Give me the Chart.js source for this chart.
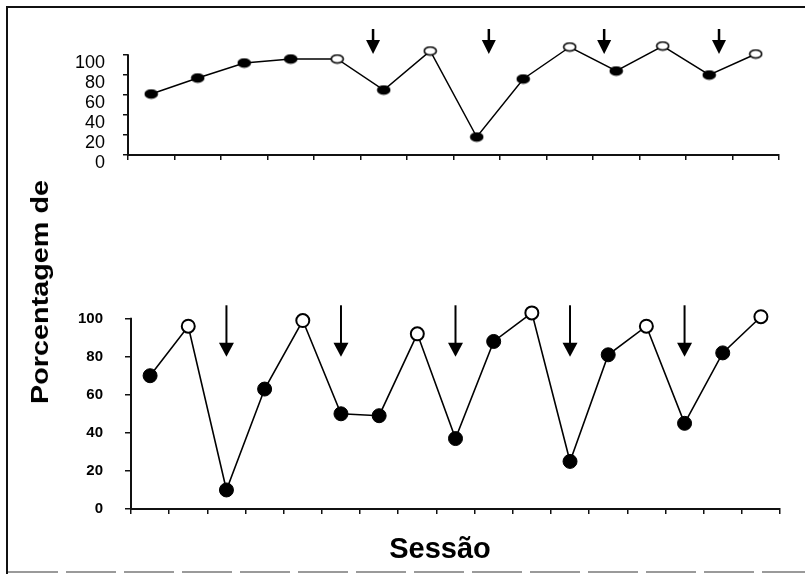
<!DOCTYPE html>
<html><head><meta charset="utf-8">
<script src="https://cdn.jsdelivr.net/npm/chart.js@4.4.1/dist/chart.umd.min.js"></script>
<style>
html,body{margin:0;padding:0;background:#fff;}
#wrap{position:relative;width:805px;height:574px;overflow:hidden;background:#fff;font-family:'Liberation Sans',Arial,sans-serif;color:#000;}
#frameL{position:absolute;left:6px;top:6px;width:2px;height:568px;background:#111;}
#frameT{position:absolute;left:6px;top:6px;width:799px;height:2px;background:#111;}
#frameB{position:absolute;left:8px;top:571px;width:797px;height:2px;background:repeating-linear-gradient(to right,#9a9a9a 0 50px,#fff 50px 58px);}
canvas{position:absolute;left:0;}
#c1{top:0;}
#c2{top:280px;}
#ytitle{position:absolute;left:40px;top:292px;font-weight:bold;font-size:24px;white-space:nowrap;transform:translate(-50%,-50%) rotate(-90deg) scaleX(1.2);}
#xtitle{position:absolute;left:440px;top:548px;font-weight:bold;font-size:29px;white-space:nowrap;transform:translate(-50%,-50%);}
</style>
</head><body>
<div id="wrap">
  <div id="frameL"></div><div id="frameT"></div><div id="frameB"></div>
  <canvas id="c1" width="805" height="200"></canvas>
  <canvas id="c2" width="805" height="260"></canvas>
  <div id="ytitle">Porcentagem de</div>
  <div id="xtitle">Sessão</div>
</div>
<script>
// ---- Painel superior ----
const sessoesA = ['1','2','3','4','5','6','7','8','9','10','11','12','13','14'];
const valoresA = [61, 77, 92, 96, 96, 65, 104, 18, 76, 108, 84, 109, 80, 101];
const tiposA = ['cheio','cheio','cheio','cheio','vazio','cheio','vazio','cheio','cheio','vazio','cheio','vazio','cheio','vazio'];
const setasA = [4.77, 7.26, 9.74, 12.21];   // posição das setas (índice de sessão)
const setaTopoA = 126, setaPontaA = 101;     // extensão das setas (em %)

// ---- Painel inferior ----
const sessoesB = ['1','2','3','4','5','6','7','8','9','10','11','12','13','14','15','16','17'];
const valoresB = [70, 96, 10, 63, 99, 50, 49, 92, 37, 88, 103, 25, 81, 96, 45, 82, 101];
const tiposB = ['cheio','vazio','cheio','cheio','vazio','cheio','cheio','vazio','cheio','cheio','vazio','cheio','cheio','vazio','cheio','cheio','vazio'];
const setasB = [2, 5, 8, 11, 14];
const setaTopoB = 107, setaPontaB = 80;

const ticksY = [0, 20, 40, 60, 80, 100];

const FONT = "'Liberation Sans', Arial, sans-serif";

function elipse(cheio){
  const c = document.createElement('canvas');
  c.width = 15; c.height = 11;
  const g = c.getContext('2d');
  g.beginPath();
  g.ellipse(7.5, 5.5, 6, 4, 0, 0, Math.PI*2);
  g.fillStyle = cheio ? '#000' : '#fff';
  g.fill();
  g.lineWidth = 1.6; g.strokeStyle = '#000'; g.stroke();
  return c;
}
const elCheia = elipse(true), elVazia = elipse(false);

const setasPlugin = {
  id: 'setas',
  beforeDatasetsDraw(chart, args, o){
    // eixo Y desenhado só de 0 a 100
    const ys = chart.scales.y, ctx = chart.ctx, x = chart.chartArea.left;
    ctx.save();
    ctx.strokeStyle = '#111'; ctx.lineWidth = 2;
    ctx.beginPath();
    ctx.moveTo(x, ys.getPixelForValue(ticksY[0]) + 1);
    ctx.lineTo(x, ys.getPixelForValue(ticksY[ticksY.length - 1]) - 0.75);
    ctx.stroke();
    ctx.restore();
  },
  afterDatasetsDraw(chart, args, o){
    const xs = chart.scales.x, ys = chart.scales.y, ctx = chart.ctx;
    ctx.save();
    ctx.fillStyle = '#000'; ctx.strokeStyle = '#000'; ctx.lineWidth = o.shaft;
    o.at.forEach(v => {
      const x = xs.getPixelForValue(v);
      const y0 = ys.getPixelForValue(o.from);
      const y1 = ys.getPixelForValue(o.to);
      ctx.beginPath(); ctx.moveTo(x, y0); ctx.lineTo(x, y1 - o.head + 1); ctx.stroke();
      ctx.beginPath();
      ctx.moveTo(x - o.half, y1 - o.head);
      ctx.lineTo(x + o.half, y1 - o.head);
      ctx.lineTo(x, y1);
      ctx.closePath(); ctx.fill();
    });
    ctx.restore();
  }
};

function opcoes(cfg){
  return {
    responsive: false, animation: false, events: [],
    layout: { padding: { top: cfg.padTop, right: cfg.padRight, left: 0, bottom: 0 } },
    plugins: { legend: { display: false }, tooltip: { enabled: false }, setas: cfg.setas },
    scales: {
      x: {
        type: 'category', offset: true,
        grid: { offset: true, drawOnChartArea: false, drawTicks: true, tickLength: 5, color: '#111', lineWidth: 1.5 },
        border: { display: true, color: '#111', width: 2 },
        ticks: { display: false },
        afterFit: s => { s.height = cfg.xHeight; }
      },
      y: {
        min: 0, max: cfg.yMax,
        afterBuildTicks: s => { s.ticks = ticksY.map(v => ({ value: v })); },
        grid: { drawOnChartArea: false, drawTicks: true, tickLength: cfg.yTick, color: '#111', lineWidth: 1.5 },
        border: { display: false },
        ticks: { autoSkip: false, color: '#000', padding: cfg.yPad, labelOffset: cfg.labelOffset, font: { family: FONT, size: cfg.fontSize, weight: cfg.fontWeight } },
        afterFit: s => { s.width = cfg.yWidth; }
      }
    }
  };
}

new Chart(document.getElementById('c1'), {
  type: 'line',
  data: {
    labels: sessoesA,
    datasets: [{
      data: valoresA, clip: false,
      borderColor: '#000', borderWidth: 1.5, tension: 0,
      pointStyle: tiposA.map(t => t === 'cheio' ? elCheia : elVazia),
      pointRadius: 6
    }]
  },
  options: opcoes({ padTop: 43, padRight: 26, xHeight: 45, yWidth: 128, yMax: 112, yTick: 5, yPad: 18, labelOffset: 8, fontSize: 18, fontWeight: 'normal',
    setas: { at: setasA, from: setaTopoA, to: setaPontaA, shaft: 2.5, head: 14, half: 7 } }),
  plugins: [setasPlugin]
});

new Chart(document.getElementById('c2'), {
  type: 'line',
  data: {
    labels: sessoesB,
    datasets: [{
      data: valoresB, clip: false,
      borderColor: '#000', borderWidth: 1.6, tension: 0,
      pointStyle: 'circle',
      pointRadius: tiposB.map(t => t === 'cheio' ? 7 : 6.5),
      pointBackgroundColor: tiposB.map(t => t === 'cheio' ? '#000' : '#fff'),
      pointBorderColor: '#000',
      pointBorderWidth: tiposB.map(t => t === 'cheio' ? 1 : 2)
    }]
  },
  options: opcoes({ padTop: 29, padRight: 25, xHeight: 31, yWidth: 131, yMax: 104, yTick: 6, yPad: 22, labelOffset: 0, fontSize: 15, fontWeight: 'bold',
    setas: { at: setasB, from: setaTopoB, to: setaPontaB, shaft: 2, head: 14, half: 7.5 } }),
  plugins: [setasPlugin]
});
</script>
</body></html>
